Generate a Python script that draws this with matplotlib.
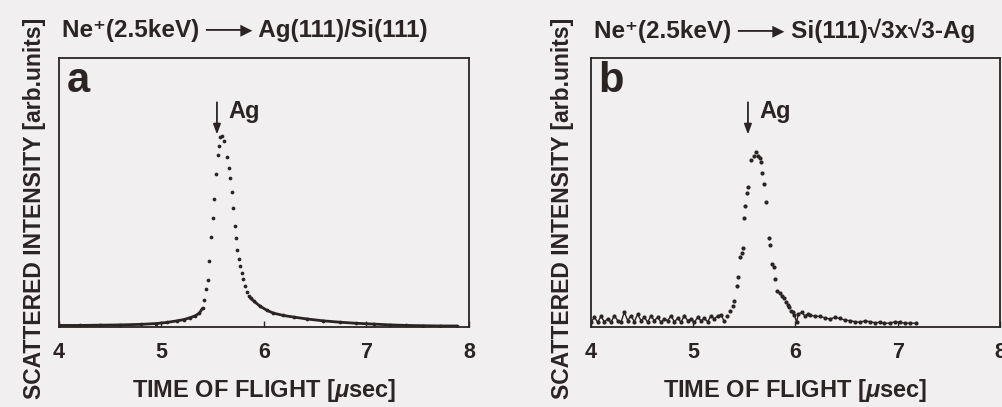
import matplotlib
matplotlib.use("Agg")
import matplotlib.pyplot as plt
import numpy as np

# ---------------- data ----------------
# Panel a: Ne+(2.5keV) -> Ag(111)/Si(111)
tof_a = [4.00, 4.20, 4.40, 4.60, 4.80, 4.95, 5.05, 5.15, 5.22, 5.28, 5.33, 5.37, 5.40,
         5.415, 5.434, 5.451, 5.466, 5.483, 5.499, 5.512, 5.529, 5.548, 5.564, 5.575,
         5.595, 5.610, 5.636, 5.656, 5.668, 5.685, 5.701, 5.714, 5.727, 5.740, 5.756,
         5.769, 5.785, 5.798, 5.818, 5.837, 5.857,
         5.87, 5.90, 5.96, 6.03, 6.09, 6.19, 6.29, 6.42, 6.58, 6.74, 6.90, 7.07, 7.23,
         7.39, 7.55, 7.72, 7.88]
int_a = [0.004, 0.004, 0.005, 0.006, 0.008, 0.011, 0.015, 0.021, 0.026, 0.033, 0.040, 0.050, 0.068,
         0.100, 0.140, 0.172, 0.243, 0.333, 0.405, 0.476, 0.569, 0.638, 0.673, 0.706,
         0.708, 0.690, 0.632, 0.591, 0.554, 0.500, 0.442, 0.373, 0.330, 0.286, 0.252,
         0.226, 0.199, 0.177, 0.149, 0.130, 0.112,
         0.105, 0.095, 0.076, 0.060, 0.050, 0.041, 0.035, 0.028, 0.021, 0.016, 0.012, 0.009, 0.006,
         0.004, 0.003, 0.002, 0.002]

# Panel b: Ne+(2.5keV) -> Si(111)sqrt3 x sqrt3-Ag
tof_b = [4.000, 4.033, 4.065, 4.098, 4.130, 4.163, 4.196, 4.228, 4.261, 4.293,
         4.326, 4.359, 4.391, 4.424, 4.456, 4.489, 4.522, 4.554, 4.587, 4.619,
         4.652, 4.685, 4.717, 4.750, 4.782, 4.815, 4.848, 4.880, 4.913, 4.945,
         4.978, 5.011, 5.043, 5.076, 5.108, 5.141, 5.174, 5.206, 5.239, 5.271,
         5.300, 5.332, 5.359, 5.385, 5.398, 5.424, 5.437, 5.457, 5.473, 5.483,
         5.496, 5.508, 5.522, 5.538, 5.564, 5.590, 5.613, 5.629, 5.649, 5.659,
         5.672, 5.688, 5.708, 5.737, 5.750, 5.773, 5.792, 5.802, 5.822, 5.848,
         5.870, 5.890, 5.906, 5.923, 5.938, 5.955, 5.972, 5.987, 6.011, 6.027,
         6.060, 6.092, 6.124, 6.14, 6.19, 6.238, 6.29, 6.336, 6.385, 6.434,
         6.48, 6.532, 6.58, 6.63, 6.68, 6.727, 6.78, 6.825, 6.87, 6.923,
         6.97, 7.02, 7.07, 7.118, 7.18]
int_b = [0.016, 0.034, 0.016, 0.038, 0.018, 0.028, 0.016, 0.040, 0.022, 0.016,
         0.053, 0.022, 0.040, 0.018, 0.046, 0.022, 0.034, 0.016, 0.040, 0.022,
         0.034, 0.016, 0.028, 0.022, 0.040, 0.018, 0.030, 0.016, 0.040, 0.022,
         0.028, 0.016, 0.034, 0.022, 0.030, 0.018, 0.040, 0.028, 0.040, 0.043,
         0.022, 0.040, 0.059, 0.077, 0.096, 0.151, 0.183, 0.257, 0.275, 0.294,
         0.405, 0.448, 0.498, 0.520, 0.619, 0.636, 0.649, 0.636, 0.626, 0.611,
         0.572, 0.532, 0.463, 0.331, 0.302, 0.232, 0.220, 0.176, 0.133, 0.124,
         0.114, 0.105, 0.090, 0.081, 0.071, 0.059, 0.053, 0.043, 0.016, 0.046,
         0.053, 0.040, 0.046, 0.043, 0.038, 0.038, 0.032, 0.028, 0.034, 0.030,
         0.024, 0.022, 0.018, 0.016, 0.021, 0.018, 0.014, 0.016, 0.012, 0.013,
         0.017, 0.016, 0.012, 0.013, 0.012]

x_ticks = [4, 5, 6, 7, 8]
titles = ["Ne\u207a(2.5keV) \u2500\u2500\u25b8 Ag(111)/Si(111)",
          "Ne\u207a(2.5keV) \u2500\u2500\u25b8 Si(111)\u221a3x\u221a3-Ag"]
panel_letters = ["a", "b"]
ylabel = "SCATTERED INTENSITY [arb.units]"
xlabel = "TIME OF FLIGHT [$\\mu$sec]"
peak_label = "Ag"
arrow_x = [5.541, 5.535]

# ---------------- style ----------------
BG = "#f1efef"
INK = "#2b2424"
FAM = ["Liberation Sans", "DejaVu Sans"]
plt.rcParams["font.family"] = FAM
plt.rcParams["font.weight"] = "bold"
plt.rcParams["mathtext.fontset"] = "custom"
plt.rcParams["mathtext.it"] = "Liberation Sans:italic:bold"
plt.rcParams["mathtext.rm"] = "Liberation Sans:bold"

W, H = 1003, 407
fig = plt.figure(figsize=(W / 100, H / 100), dpi=100, facecolor=BG)

axes_px = [(59, 469), (591, 1000)]
top_px, bot_px = 58, 326.5
ylab_x = [35, 562]

data = [(tof_a, int_a), (tof_b, int_b)]

for i, (l, r) in enumerate(axes_px):
    ax = fig.add_axes([l / W, (H - bot_px) / H, (r - l) / W, (bot_px - top_px) / H])
    ax.set_facecolor(BG)
    t, y = np.array(data[i][0]), np.array(data[i][1])
    if i == 0:
        left = t <= 5.40
        right = t >= 5.857
        ax.plot(t[left], y[left], color=INK, lw=2.0, solid_capstyle="round")
        ax.plot(t[right], y[right], color=INK, lw=2.0, solid_capstyle="round")
        ax.plot(t, y, "o", color=INK, ms=2.7, mec="none")
    else:
        left = t <= 5.30
        right = t >= 5.987
        ax.plot(t[left], y[left], color=INK, lw=1.0)
        ax.plot(t[right], y[right], color=INK, lw=1.0)
        ax.plot(t, y, "o", color=INK, ms=3.0, mec="none")

    ax.set_xlim(4, 8)
    ax.set_ylim(0, 1)
    ax.set_xticks(x_ticks)
    ax.set_xticklabels([str(v) for v in x_ticks])
    ax.set_yticks([])
    ax.tick_params(axis="x", direction="in", length=4, width=1.0, color=INK,
                   labelsize=15.5, labelcolor=INK, pad=11)
    for lab in ax.get_xticklabels():
        lab.set_fontweight("bold")
    for s in ax.spines.values():
        s.set_color(INK)
        s.set_linewidth(1.3)

    ax.set_xlabel(xlabel, fontsize=17, fontweight="bold", color=INK, labelpad=10)

    # panel letter
    ax.text(0.018, 0.875, panel_letters[i], transform=ax.transAxes, fontsize=30,
            fontweight="bold", color=INK, va="baseline", ha="left")

    # arrow + Ag label
    ax.annotate("", xy=(arrow_x[i], 0.715), xytext=(arrow_x[i], 0.835),
                arrowprops=dict(arrowstyle="-|>,head_width=0.22,head_length=0.6",
                                color=INK, lw=1.3, shrinkA=0, shrinkB=0))
    ax.text(arrow_x[i] + 0.115, 0.80, peak_label, fontsize=17, fontweight="bold",
            color=INK, va="center", ha="left")

    # title
    fig.text((l + 3) / W, 1 - 31 / H, titles[i], fontsize=17.5, fontweight="bold",
             color=INK, va="center", ha="left", family=FAM)

    # y label
    fig.text(ylab_x[i] / W, 1 - 208 / H, ylabel, rotation=90, fontsize=16.5,
             fontweight="bold", color=INK, va="center", ha="center")

fig.savefig("out.png", dpi=100, facecolor=BG)
